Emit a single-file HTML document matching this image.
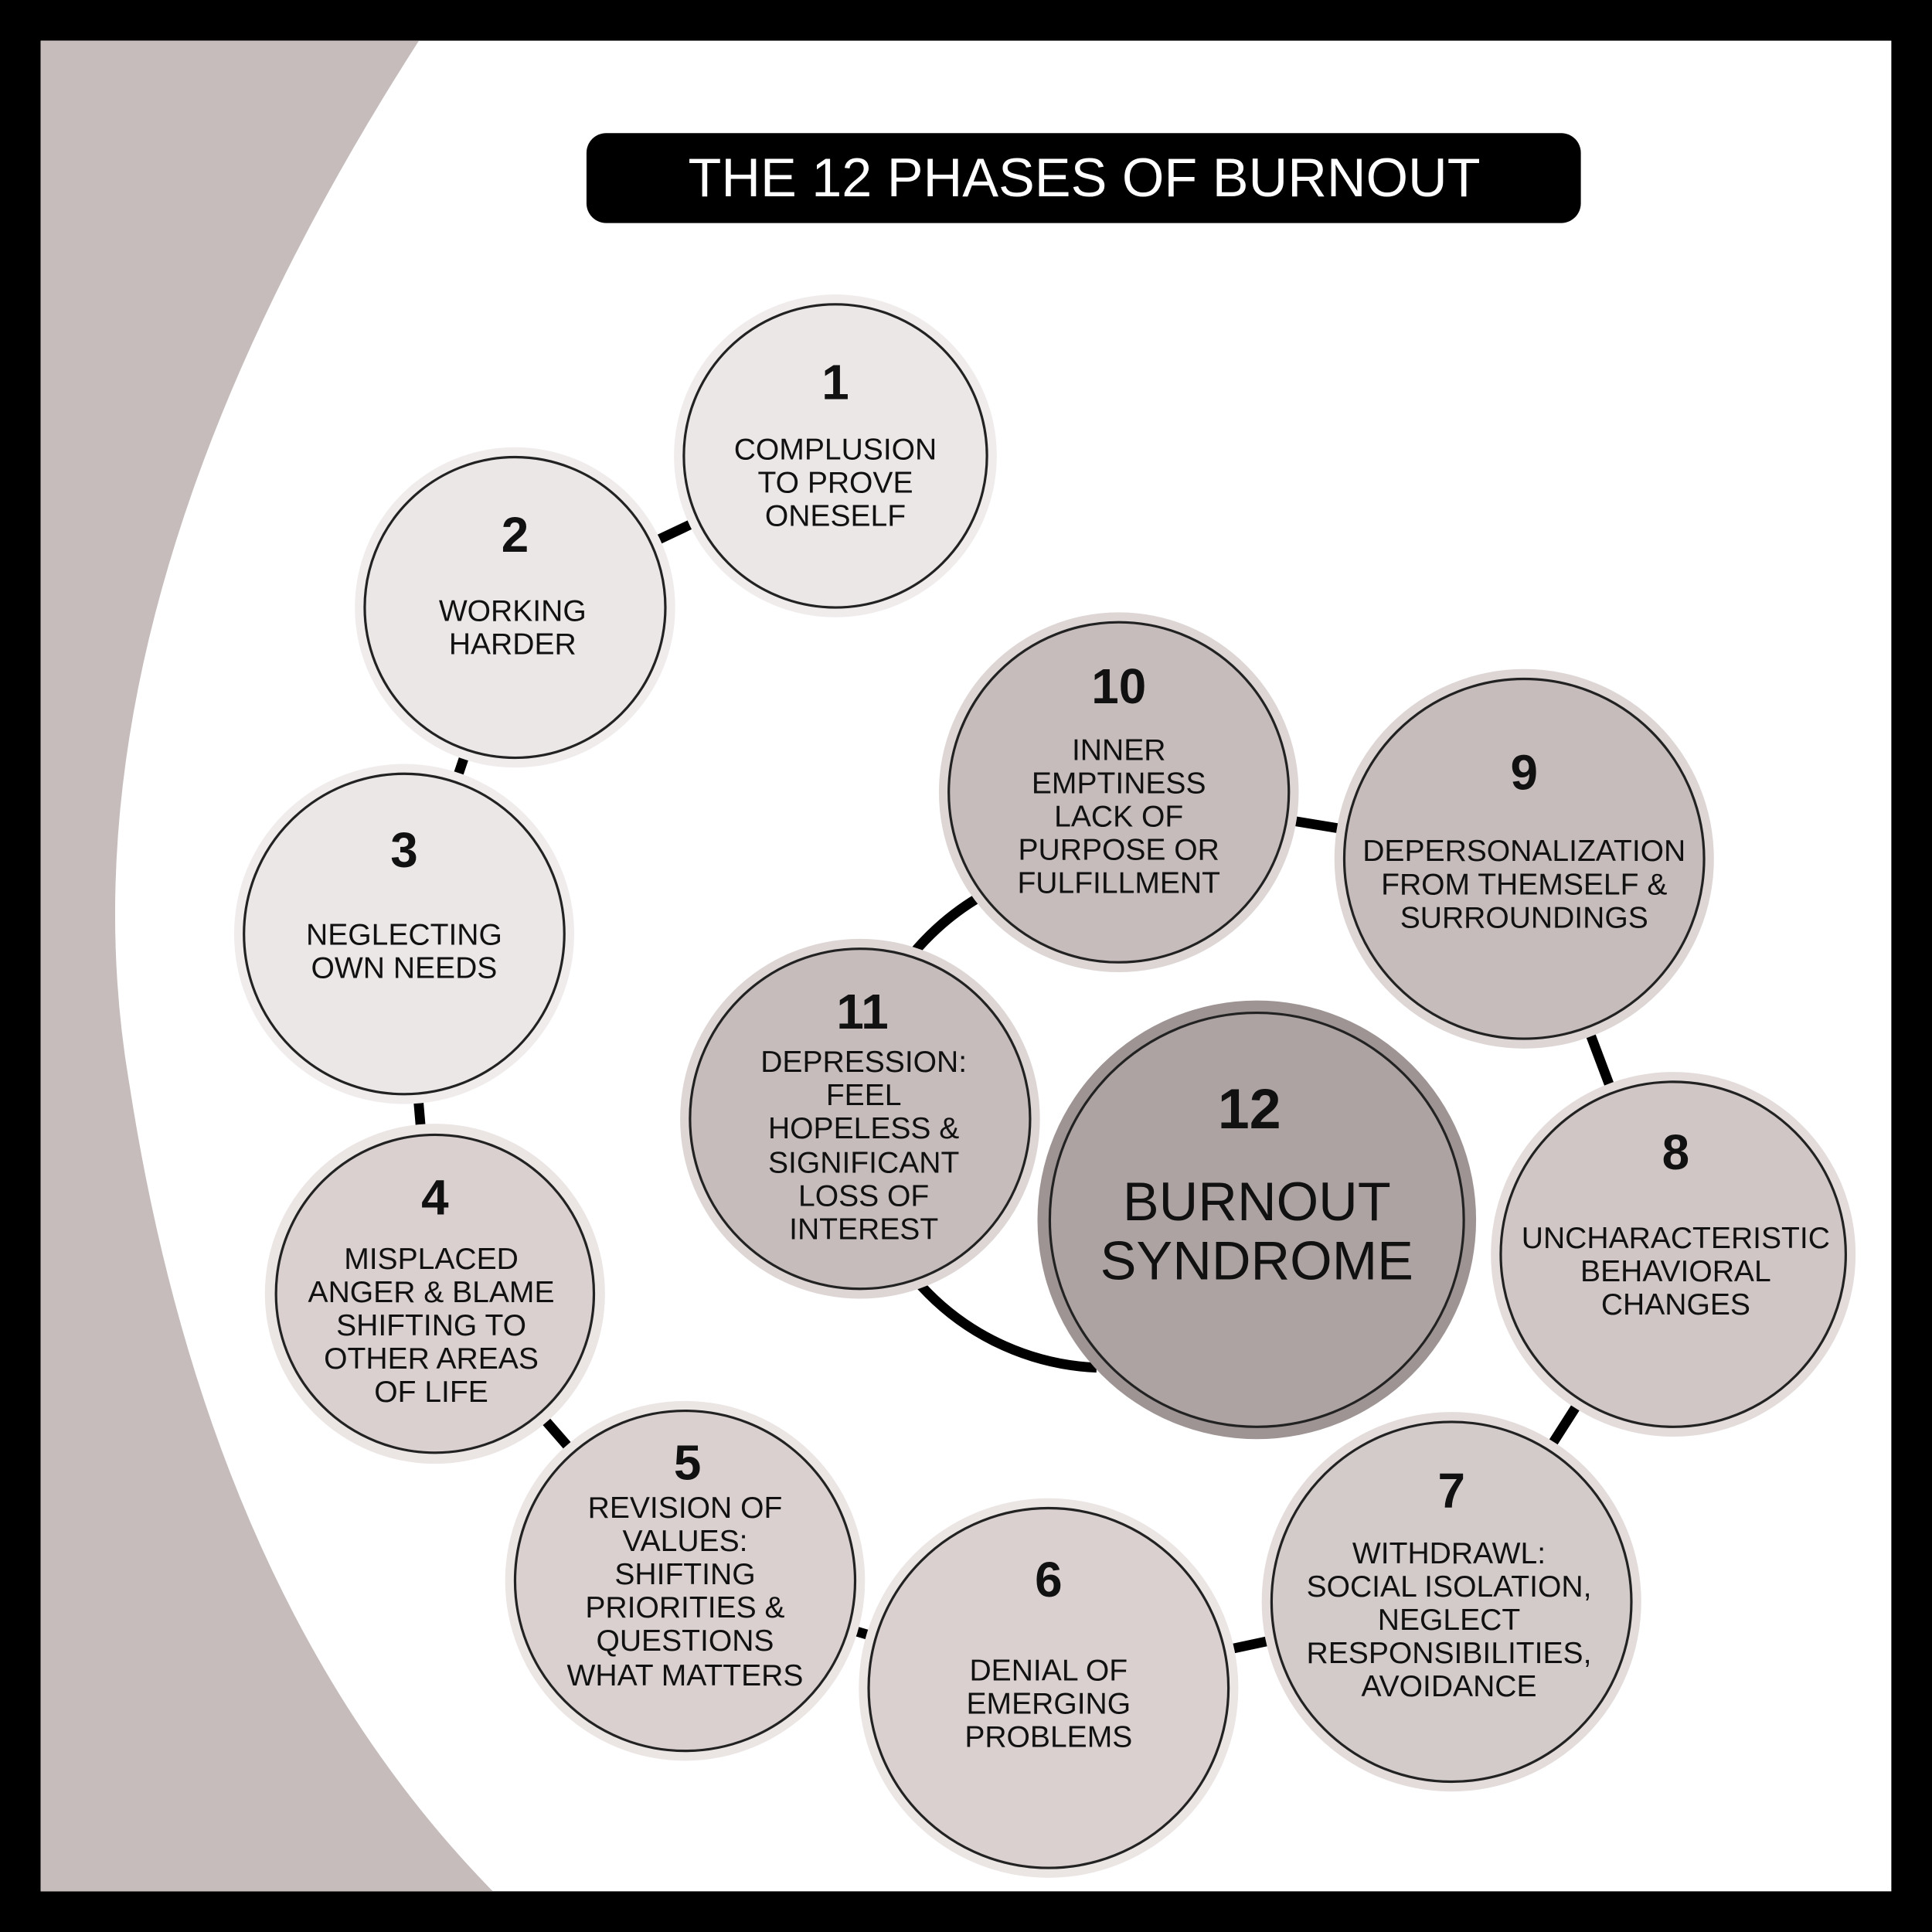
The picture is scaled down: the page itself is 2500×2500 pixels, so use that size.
<!DOCTYPE html>
<html><head><meta charset="utf-8"><style>
html,body{margin:0;padding:0;background:#000;}
svg{display:block;}
text{font-family:"Liberation Sans",sans-serif;fill:#111;text-anchor:middle;dominant-baseline:central;}
.n{font-weight:bold;font-size:40px;}
.l{font-size:24.5px;}
</style></head><body>
<svg width="2500" height="2500" viewBox="0 0 1568 1568" xmlns="http://www.w3.org/2000/svg">
<rect x="0" y="0" width="1568" height="1568" fill="#000"/>
<rect x="33" y="33" width="1502" height="1502" fill="#fff"/>
<path d="M33 33 L340 33 Q40 500 105 880 Q170 1300 400 1535 L33 1535 Z" fill="#c5bcbb"/>
<rect x="476" y="108" width="807" height="73" rx="16" fill="#000"/>
<text x="880" y="144" style="fill:#fff;font-size:44px;">THE 12 PHASES OF BURNOUT</text>
<g stroke="#000" stroke-width="8" fill="none">
<polyline points="678,370 418,493 328,758 353,1050 556,1283 851,1370 1178,1300 1358,1018 1237,697 908,643"/>
<path d="M908 700 A205 205 0 1 0 890 1110"/>
</g>
<g stroke="#222" stroke-width="2">
<circle cx="678" cy="370" r="131" fill="#f0ecec" stroke="none"/><circle cx="678" cy="370" r="123" fill="#ebe7e6"/>
<circle cx="418" cy="493" r="130" fill="#f0ecec" stroke="none"/><circle cx="418" cy="493" r="122" fill="#ebe7e6"/>
<circle cx="328" cy="758" r="138" fill="#f0ecec" stroke="none"/><circle cx="328" cy="758" r="130" fill="#ebe7e6"/>
<circle cx="353" cy="1050" r="138" fill="#ebe5e4" stroke="none"/><circle cx="353" cy="1050" r="129" fill="#d9d0cf"/>
<circle cx="556" cy="1283" r="146" fill="#ebe5e4" stroke="none"/><circle cx="556" cy="1283" r="138" fill="#d9d0cf"/>
<circle cx="851" cy="1370" r="154" fill="#ebe5e4" stroke="none"/><circle cx="851" cy="1370" r="146" fill="#d9d0cf"/>
<circle cx="1178" cy="1300" r="154" fill="#e3dcdb" stroke="none"/><circle cx="1178" cy="1300" r="146" fill="#d3cbca"/>
<circle cx="1358" cy="1018" r="148" fill="#e3dcdb" stroke="none"/><circle cx="1358" cy="1018" r="140" fill="#cfc6c5"/>
<circle cx="1237" cy="697" r="154" fill="#ddd6d5" stroke="none"/><circle cx="1237" cy="697" r="146" fill="#c5bcbb"/>
<circle cx="908" cy="643" r="146" fill="#ddd6d5" stroke="none"/><circle cx="908" cy="643" r="138" fill="#c5bcbb"/>
<circle cx="698" cy="908" r="146" fill="#ddd6d5" stroke="none"/><circle cx="698" cy="908" r="138" fill="#c5bcbb"/>
<circle cx="1020" cy="990" r="178" fill="#9e9494" stroke="none"/><circle cx="1020" cy="990" r="168" fill="#ada3a2"/>
</g>
<text class="n" x="678" y="310">1</text>
<text class="l" x="678" y="365">COMPLUSION</text><text class="l" x="678" y="392">TO PROVE</text><text class="l" x="678" y="419">ONESELF</text>
<text class="n" x="418" y="434">2</text>
<text class="l" x="416" y="496">WORKING</text><text class="l" x="416" y="523">HARDER</text>
<text class="n" x="328" y="690">3</text>
<text class="l" x="328" y="759">NEGLECTING</text><text class="l" x="328" y="786">OWN NEEDS</text>
<text class="n" x="353" y="972">4</text>
<text class="l" x="350" y="1022">MISPLACED</text><text class="l" x="350" y="1049">ANGER &amp; BLAME</text><text class="l" x="350" y="1076">SHIFTING TO</text><text class="l" x="350" y="1103">OTHER AREAS</text><text class="l" x="350" y="1130">OF LIFE</text>
<text class="n" x="558" y="1187">5</text>
<text class="l" x="556" y="1224">REVISION OF</text><text class="l" x="556" y="1251">VALUES:</text><text class="l" x="556" y="1278">SHIFTING</text><text class="l" x="556" y="1305">PRIORITIES &amp;</text><text class="l" x="556" y="1332">QUESTIONS</text><text class="l" x="556" y="1360">WHAT MATTERS</text>
<text class="n" x="851" y="1282">6</text>
<text class="l" x="851" y="1356">DENIAL OF</text><text class="l" x="851" y="1383">EMERGING</text><text class="l" x="851" y="1410">PROBLEMS</text>
<text class="n" x="1178" y="1210">7</text>
<text class="l" x="1176" y="1261">WITHDRAWL:</text><text class="l" x="1176" y="1288">SOCIAL ISOLATION,</text><text class="l" x="1176" y="1315">NEGLECT</text><text class="l" x="1176" y="1342">RESPONSIBILITIES,</text><text class="l" x="1176" y="1369">AVOIDANCE</text>
<text class="n" x="1360" y="935">8</text>
<text class="l" x="1360" y="1005">UNCHARACTERISTIC</text><text class="l" x="1360" y="1032">BEHAVIORAL</text><text class="l" x="1360" y="1059">CHANGES</text>
<text class="n" x="1237" y="627">9</text>
<text class="l" x="1237" y="691">DEPERSONALIZATION</text><text class="l" x="1237" y="718">FROM THEMSELF &amp;</text><text class="l" x="1237" y="745">SURROUNDINGS</text>
<text class="n" x="908" y="557">10</text>
<text class="l" x="908" y="609">INNER</text><text class="l" x="908" y="636">EMPTINESS</text><text class="l" x="908" y="663">LACK OF</text><text class="l" x="908" y="690">PURPOSE OR</text><text class="l" x="908" y="717">FULFILLMENT</text>
<text class="n" x="700" y="821">11</text>
<text class="l" x="701" y="862">DEPRESSION:</text><text class="l" x="701" y="889">FEEL</text><text class="l" x="701" y="916">HOPELESS &amp;</text><text class="l" x="701" y="944">SIGNIFICANT</text><text class="l" x="701" y="971">LOSS OF</text><text class="l" x="701" y="998">INTEREST</text>
<text class="n" x="1014" y="900" style="font-size:46px">12</text>
<text x="1020" y="975" style="font-size:44px">BURNOUT</text><text x="1020" y="1023" style="font-size:44px">SYNDROME</text>
</svg>
</body></html>
